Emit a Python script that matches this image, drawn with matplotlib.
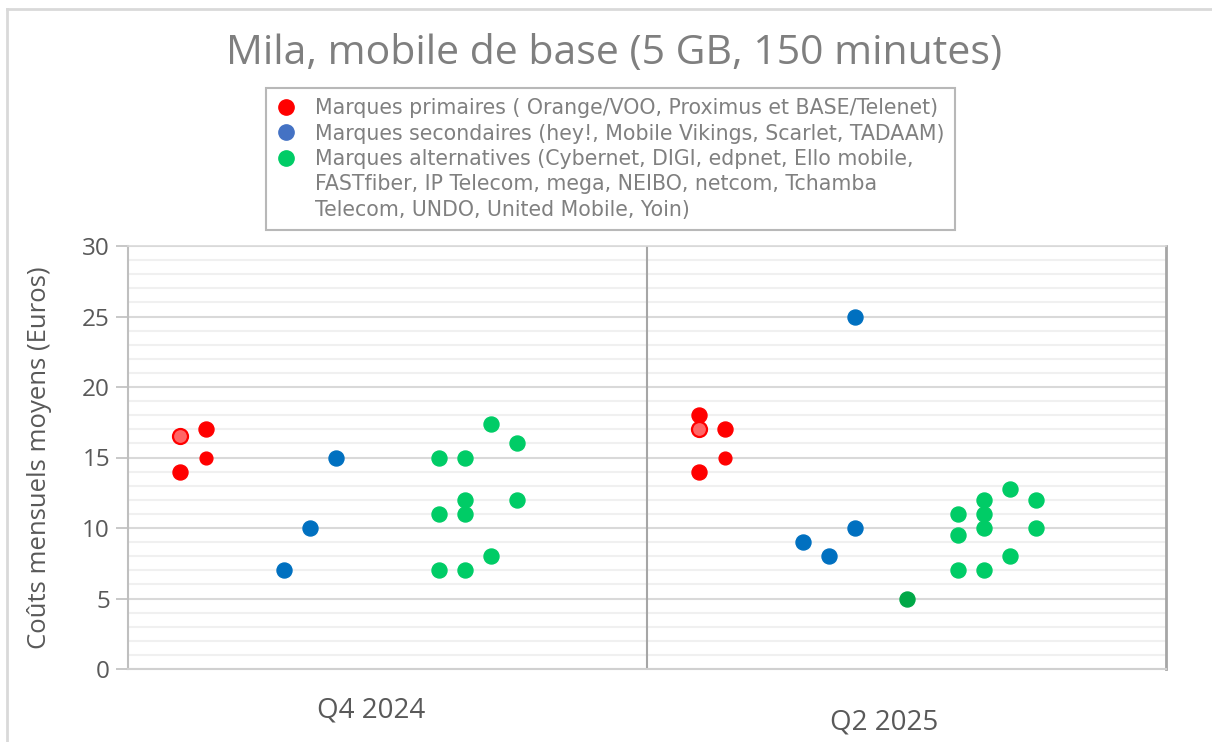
import matplotlib
matplotlib.use("Agg")
import matplotlib.pyplot as plt
from matplotlib.lines import Line2D
import numpy as np

# ---------------- data ----------------
periods = ["Q4 2024", "Q2 2025"]

# (sub-column index within period, value)
q4_primary_cols = [0, 1]
q4_primary_vals = [14, 17]
q4_primary_light_cols = [0]
q4_primary_light_vals = [16.5]
q4_primary_small_cols = [1]
q4_primary_small_vals = [15]
q4_secondary_cols = [4, 5, 6]
q4_secondary_vals = [7, 10, 15]
q4_alt_cols = [10, 10, 10, 11, 11, 11, 11, 12, 12, 13, 13]
q4_alt_vals = [15, 11, 7, 15, 12, 11, 7, 17.4, 8, 16, 12]
q4_alt_dark_cols = []
q4_alt_dark_vals = []

q2_primary_cols = [0, 0, 1]
q2_primary_vals = [18, 14, 17]
q2_primary_light_cols = [0]
q2_primary_light_vals = [17]
q2_primary_small_cols = [1]
q2_primary_small_vals = [15]
q2_secondary_cols = [4, 5, 6, 6]
q2_secondary_vals = [9, 8, 25, 10]
q2_alt_cols = [10, 10, 10, 11, 11, 11, 11, 12, 12, 13, 13]
q2_alt_vals = [11, 9.5, 7, 12, 11, 10, 7, 12.8, 8, 12, 10]
q2_alt_dark_cols = [8]
q2_alt_dark_vals = [5]

legend_labels = [
    "Marques primaires ( Orange/VOO, Proximus et BASE/Telenet)",
    "Marques secondaires (hey!, Mobile Vikings, Scarlet, TADAAM)",
    "Marques alternatives (Cybernet, DIGI, edpnet, Ello mobile,",
    "FASTfiber, IP Telecom, mega, NEIBO, netcom, Tchamba",
    "Telecom, UNDO, United Mobile, Yoin)",
]

# ---------------- styling ----------------
RED = "#FF0000"
RED_LIGHT = "#FF6666"
BLUE = "#0070C0"
BLUE_LEG = "#4472C4"
GREEN = "#00CC66"
GREEN_DARK = "#00A847"
TXT = "#595959"

W, H = 1212, 742
fig = plt.figure(figsize=(W / 100, H / 100), dpi=100)
ax = fig.add_axes([128 / W, 1 - 669 / H, (1166 - 128) / W, (669 - 246) / H])

col_step = 0.05
col_start = 0.10


def xs(period_idx, cols):
    return [period_idx + col_start + c * col_step for c in cols]


MS = 10.8
series = [
    (q4_primary_cols, q4_primary_vals, q2_primary_cols, q2_primary_vals, dict(color=RED, ms=MS, mec=RED)),
    (q4_primary_light_cols, q4_primary_light_vals, q2_primary_light_cols, q2_primary_light_vals,
     dict(color=RED_LIGHT, ms=MS, mec=RED, mew=1.6)),
    (q4_primary_small_cols, q4_primary_small_vals, q2_primary_small_cols, q2_primary_small_vals,
     dict(color=RED, ms=9.2, mec=RED)),
    (q4_secondary_cols, q4_secondary_vals, q2_secondary_cols, q2_secondary_vals, dict(color=BLUE, ms=MS, mec=BLUE)),
    (q4_alt_cols, q4_alt_vals, q2_alt_cols, q2_alt_vals, dict(color=GREEN, ms=MS, mec=GREEN)),
    (q4_alt_dark_cols, q4_alt_dark_vals, q2_alt_dark_cols, q2_alt_dark_vals,
     dict(color=GREEN_DARK, ms=MS, mec=GREEN_DARK)),
]
for c4, v4, c2, v2, st in series:
    x = xs(0, c4) + xs(1, c2)
    y = list(v4) + list(v2)
    if x:
        ax.plot(x, y, linestyle="none", marker="o", zorder=5, **st)

ax.set_xlim(0, 2)
ax.set_ylim(0, 30)
ax.set_yticks(np.arange(0, 31, 5))
ax.set_yticks(np.arange(0, 31, 1), minor=True)
ax.grid(which="minor", axis="y", color="#F0F0F0", linewidth=1.5, zorder=0)
ax.grid(which="major", axis="y", color="#D9D9D9", linewidth=1.5, zorder=1)
ax.set_axisbelow(True)
ax.set_xticks([])
ax.tick_params(axis="y", which="major", length=9, width=1.2, color="#BFBFBF",
               labelsize=17.5, labelcolor=TXT, pad=4)
ax.tick_params(axis="y", which="minor", length=0)
for lbl in ax.get_yticklabels():
    lbl.set_fontfamily("Open Sans")

ax.axvline(1, color="#A6A6A6", linewidth=1.5, zorder=2)
ax.spines["left"].set_color("#BFBFBF")
ax.spines["left"].set_linewidth(1.5)
ax.spines["bottom"].set_color("#D0D0D0")
ax.spines["bottom"].set_linewidth(1.5)
ax.spines["top"].set_color("#D9D9D9")
ax.spines["top"].set_linewidth(1.2)
ax.spines["right"].set_color("#A6A6A6")
ax.spines["right"].set_linewidth(2)

ax.set_ylabel("Coûts mensuels moyens (Euros)", fontsize=18.5, color=TXT,
              family="Open Sans", labelpad=22)

# period labels
fig.text(371 / W, 1 - 711 / H, periods[0], ha="center", va="center",
         fontsize=20, color=TXT, family="Open Sans")
fig.text(884 / W, 1 - 722 / H, periods[1], ha="center", va="center",
         fontsize=20, color=TXT, family="Open Sans")

# title
fig.text(614 / W, 1 - 54 / H, "Mila, mobile de base (5 GB, 150 minutes)",
         ha="center", va="center", fontsize=29.5, color="#7F7F7F", family="Open Sans")

# legend
handles = [
    Line2D([], [], linestyle="none", marker="o", color=RED, ms=11),
    Line2D([], [], linestyle="none", marker="o", color=BLUE_LEG, ms=11),
    Line2D([], [], linestyle="none", marker="o", color=GREEN, ms=11),
    Line2D([], [], linestyle="none", marker=None),
    Line2D([], [], linestyle="none", marker=None),
]
leg = fig.legend(handles, legend_labels, loc="upper left",
                 bbox_to_anchor=(266 / W, 1 - 88 / H), frameon=True, fancybox=False,
                 prop=dict(family="DejaVu Sans", size=14.8), labelcolor="#808080",
                 handlelength=0.9, handletextpad=1.0, labelspacing=0.26,
                 borderpad=0.5, borderaxespad=0)
leg.get_frame().set_edgecolor("#A6A6A6")
leg.get_frame().set_linewidth(1.5)

# outer chart border (top and left)
fig.add_artist(Line2D([7 / W, 7 / W], [0, 1 - 9 / H], color="#D9D9D9", lw=2,
                      transform=fig.transFigure))
fig.add_artist(Line2D([7 / W, 1], [1 - 9 / H, 1 - 9 / H], color="#D9D9D9", lw=2,
                      transform=fig.transFigure))

fig.savefig("out.png", dpi=100, facecolor="white")
